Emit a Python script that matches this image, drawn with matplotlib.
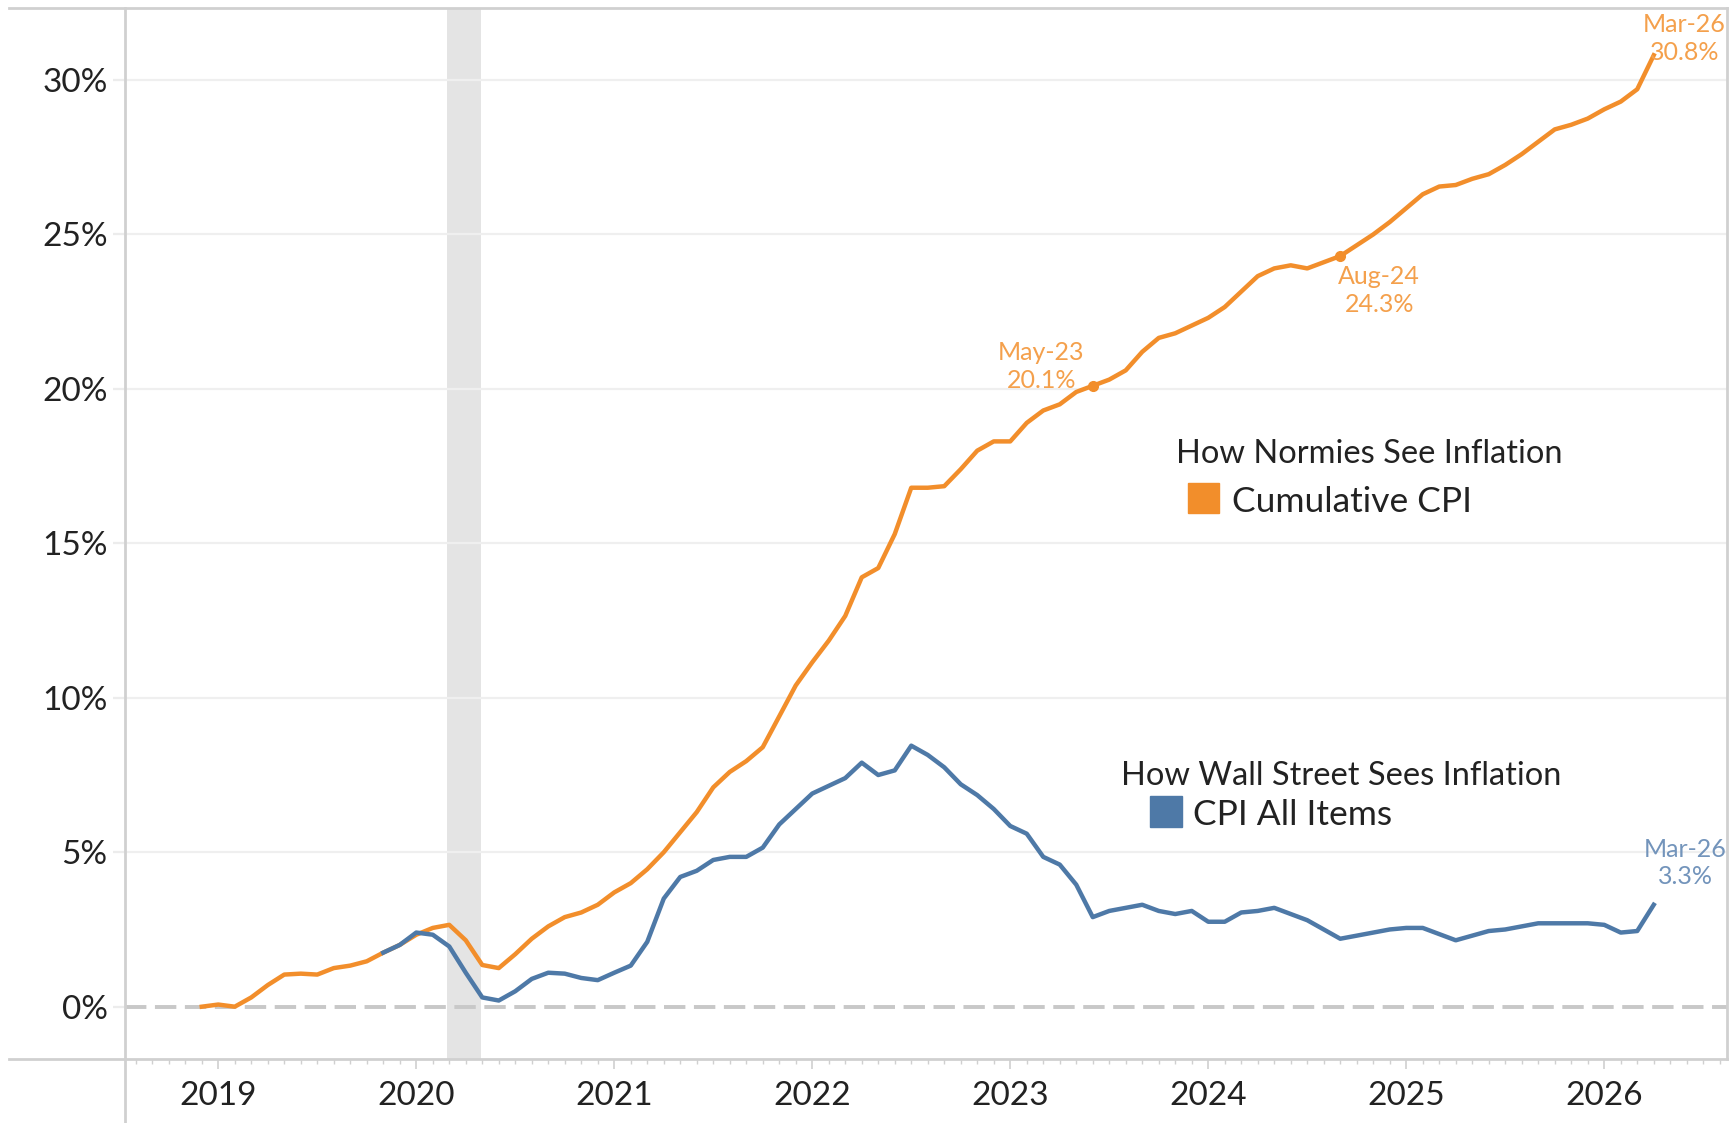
import matplotlib
matplotlib.use("Agg")
import matplotlib.pyplot as plt
from matplotlib.lines import Line2D
from matplotlib.patches import Rectangle
import numpy as np

plt.rcParams['font.family'] = ['Lato', 'DejaVu Sans']

# monthly series, first point plotted at Dec 2018 (index 0)
start_x = 2018 + 11 / 12

cum_cpi = [0.0, 0.07, 0.0, 0.3, 0.7, 1.04, 1.07, 1.04, 1.25, 1.33,
           1.47, 1.75, 2.0, 2.33, 2.55, 2.65, 2.15, 1.35, 1.25, 1.7,
           2.2, 2.6, 2.9, 3.05, 3.3, 3.7, 4.0, 4.45, 5.0, 5.65,
           6.3, 7.1, 7.6, 7.95, 8.4, 9.4, 10.4, 11.15, 11.85, 12.65,
           13.9, 14.2, 15.3, 16.8, 16.8, 16.85, 17.4, 18.0, 18.3, 18.3,
           18.9, 19.3, 19.5, 19.9, 20.1, 20.3, 20.6, 21.2, 21.65, 21.8,
           22.05, 22.3, 22.65, 23.15, 23.65, 23.9, 24.0, 23.9, 24.1, 24.3,
           24.65, 25.0, 25.4, 25.85, 26.3, 26.55, 26.6, 26.8, 26.95, 27.25,
           27.6, 28.0, 28.4, 28.55, 28.75, 29.05, 29.3, 29.7, 30.8]

cpi_start = 11
cpi_yoy = [1.75, 2.0, 2.4, 2.33, 1.95, 1.1, 0.3, 0.2, 0.5, 0.9,
           1.1, 1.07, 0.93, 0.86, 1.1, 1.33, 2.1, 3.5, 4.2, 4.4,
           4.75, 4.85, 4.85, 5.15, 5.9, 6.4, 6.9, 7.15, 7.4, 7.9,
           7.5, 7.65, 8.45, 8.15, 7.75, 7.2, 6.85, 6.4, 5.85, 5.6,
           4.85, 4.6, 3.95, 2.9, 3.1, 3.2, 3.3, 3.1, 3.0, 3.1,
           2.75, 2.75, 3.05, 3.1, 3.2, 3.0, 2.8, 2.5, 2.2, 2.3,
           2.4, 2.5, 2.55, 2.55, 2.35, 2.15, 2.3, 2.45, 2.5, 2.6,
           2.7, 2.7, 2.7, 2.7, 2.65, 2.4, 2.45, 3.3]

years = [2019, 2020, 2021, 2022, 2023, 2024, 2025, 2026]
pct_ticks = [0, 5, 10, 15, 20, 25, 30]
recession = (2020.153, 2020.327)

# labelled points: (series, index, text)
callouts = [("cum", 54, "May-23\n20.1%"), ("cum", 69, "Aug-24\n24.3%"),
            ("cum", 88, "Mar-26\n30.8%"), ("cpi", 88, "Mar-26\n3.3%")]

orange = "#f28e2b"
blue = "#4e79a7"
frame = "#d0d0d0"

W, H = 1735, 1123
fig = plt.figure(figsize=(W / 100, H / 100), dpi=100)
ax = fig.add_axes([125 / W, 1 - 1059 / H, (1727 - 125) / W, (1059 - 8) / H])

x_cum = start_x + np.arange(len(cum_cpi)) / 12
x_cpi = start_x + (cpi_start + np.arange(len(cpi_yoy))) / 12

ax.axvspan(*recession, color="#e4e4e4", lw=0, zorder=0)
for v in pct_ticks[1:]:
    ax.axhline(v, color="#efefef", lw=1.6, zorder=0.5)
ax.axhline(0, color="#c8c8c8", lw=2.8, ls=(0, (5.5, 2.2)), zorder=1)

ax.plot(x_cum, cum_cpi, color=orange, lw=3.2, solid_joinstyle="round", zorder=3)
ax.plot(x_cpi, cpi_yoy, color=blue, lw=3.2, solid_joinstyle="round", zorder=4)

ax.set_xlim(2018.529, 2026.62)
ax.set_ylim(-1.693, 32.33)

ax.set_yticks(pct_ticks)
ax.set_yticklabels([f"{v}%" for v in pct_ticks])
ax.set_xticks(years)
ax.set_xticklabels([str(y) for y in years])
ax.set_xticks(2018 + np.arange(7, 104) / 12, minor=True)
ax.tick_params(axis="y", length=8.5, width=1.6, color="#ececec", pad=4,
               labelsize=24, labelcolor="#222222")
ax.tick_params(axis="x", which="major", length=7, width=1.2, color=frame,
               pad=9, labelsize=24, labelcolor="#222222")
ax.tick_params(axis="x", which="minor", length=3.5, width=1, color=frame)
for s in ax.spines.values():
    s.set_visible(False)

# frame lines reaching past the plot area
fx = lambda px: px / W
fy = lambda py: 1 - py / H
fig.add_artist(Line2D([fx(9), fx(1727)], [fy(8), fy(8)], color=frame, lw=2))
fig.add_artist(Line2D([fx(9), fx(1727)], [fy(1059), fy(1059)], color=frame, lw=2))
fig.add_artist(Line2D([fx(125), fx(125)], [fy(8), 0], color=frame, lw=2))
fig.add_artist(Line2D([fx(1727), fx(1727)], [fy(8), fy(1059)], color=frame, lw=2))

# callouts
offsets = {54: (-37, 14), 69: (28, -25)}
for series, i, txt in callouts:
    if series == "cum":
        px, py, col = x_cum[i], cum_cpi[i], "#f4a04c"
        off = offsets.get(i, (22, 12))
    else:
        px, py, col = x_cpi[i - cpi_start], cpi_yoy[i - cpi_start], "#7394bb"
        off = (23, 30)
    if i in offsets:
        ax.plot(px, py, "o", color=orange, ms=7, zorder=5)
    ax.annotate(txt, (px, py), xytext=off, textcoords="offset points",
                ha="center", va="center", fontsize=18, color=col,
                linespacing=1.25, zorder=6)

# legends
fig.text(fx(1176), fy(463), "How Normies See Inflation", fontsize=23.5,
         color="#222222", va="baseline", ha="left")
fig.add_artist(Rectangle((fx(1188), fy(513)), fx(31), 30 / H, color=orange))
fig.text(fx(1232), fy(512), "Cumulative CPI", fontsize=25.5,
         color="#222222", va="baseline", ha="left")
fig.text(fx(1121), fy(785), "How Wall Street Sees Inflation", fontsize=23.5,
         color="#222222", va="baseline", ha="left")
fig.add_artist(Rectangle((fx(1150), fy(827)), fx(32), 31 / H, color=blue))
fig.text(fx(1193), fy(825), "CPI All Items", fontsize=25.5,
         color="#222222", va="baseline", ha="left")

fig.savefig("out.png", dpi=100, facecolor="white")
